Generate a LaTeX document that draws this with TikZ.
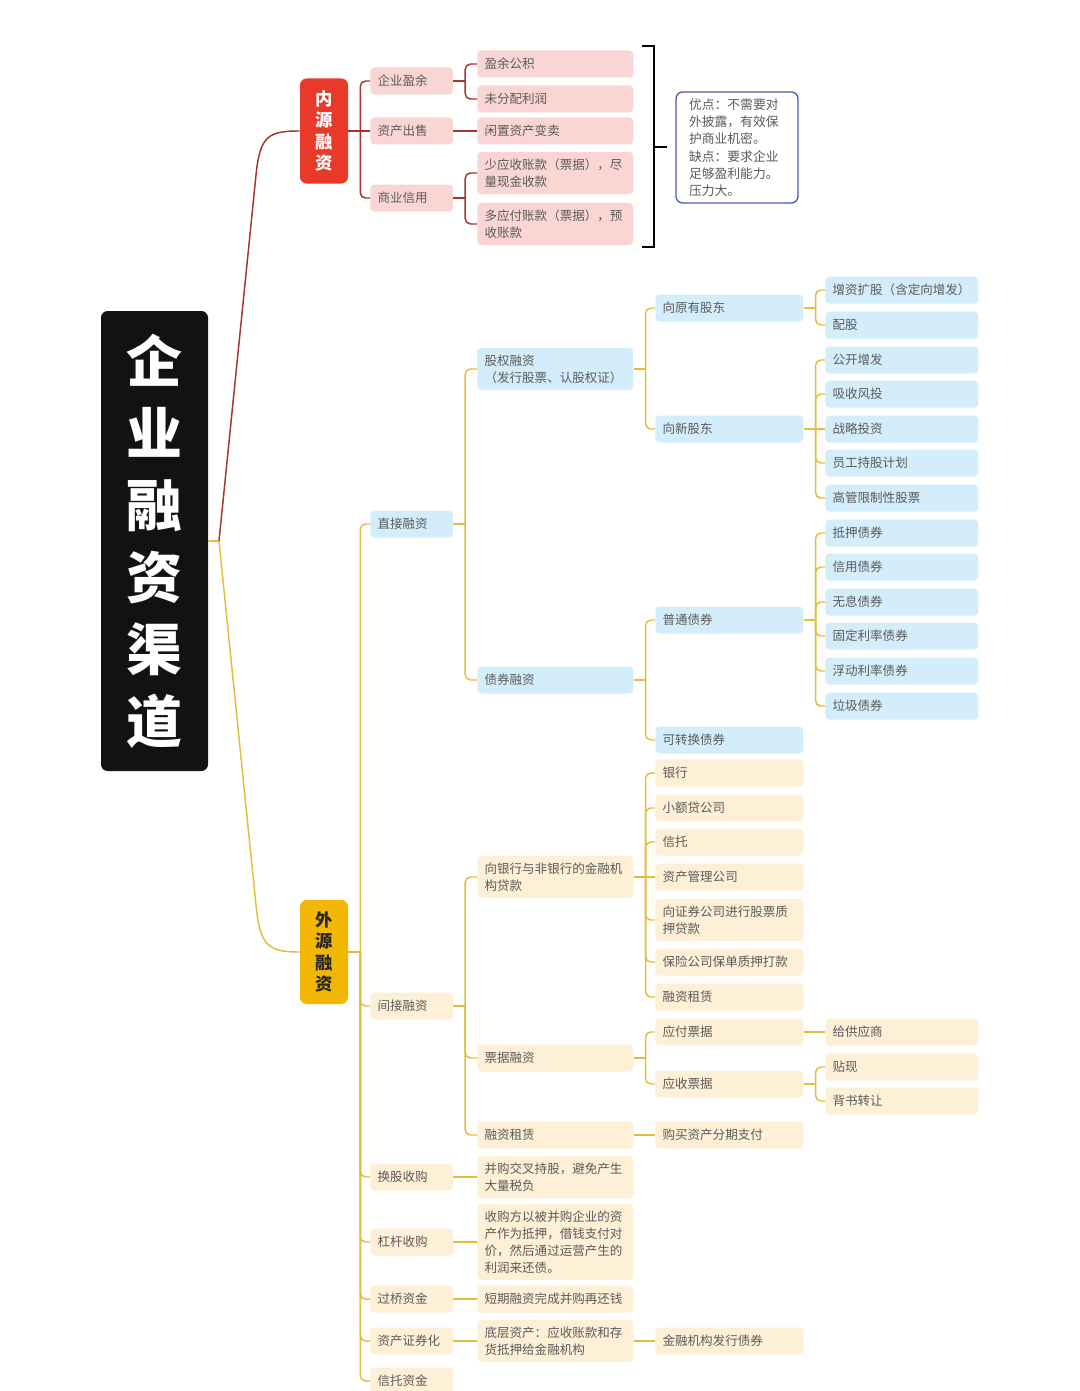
\documentclass[tikz,border=0pt]{standalone}
\usepackage{fontspec}
\setmainfont{Noto Sans CJK SC}
\usetikzlibrary{calc}
\definecolor{pinkf}{HTML}{F9D6D3}
\definecolor{bluef}{HTML}{D4EDFB}
\definecolor{creamf}{HTML}{FDF0D6}
\definecolor{txt}{HTML}{5B5B5B}
\definecolor{redl}{HTML}{A8322D}
\definecolor{yell}{HTML}{E5BD3A}
\definecolor{redbox}{HTML}{E8392B}
\definecolor{yelbox}{HTML}{F2B705}
\definecolor{notec}{HTML}{4A5AA8}
\tikzset{
  base/.style={anchor=west, rounded corners=3pt, inner xsep=5.5pt, inner ysep=5pt,
    minimum height=20.25pt, align=left, text=txt, font=\fontsize{9.4}{12.8}\selectfont},
  pk/.style={base, fill=pinkf},
  bl/.style={base, fill=bluef},
  cr/.style={base, fill=creamf},
  wA/.style={text width=51pt},
  wB/.style={text width=106pt},
  wC/.style={text width=100pt},
  wD/.style={text width=103.75pt},
  rl/.style={draw=redl, line width=1.1pt},
  yl/.style={draw=yell, line width=1.1pt},
}
% style, parent, children reached by a bend, children level with the parent
\newcommand\mybr[4]{%
  \draw[#1] (#2.east) -- ++(12,0) coordinate (#2-t);
  \foreach \c in {#3} { \draw[#1, rounded corners=4pt] (#2-t) |- (\c.west); }
  \foreach \c in {#4} { \draw[#1] (#2-t) -- (\c.west); }
}
\newcommand\mystr[3]{\draw[#1] (#2.east) -- (#3.west);}
\begin{document}
\begin{tikzpicture}[x=0.75pt,y=-0.75pt]
\fill[white] (0,0) rectangle (1080,1391);
\useasboundingbox (0,0) rectangle (1080,1391);

% root
\node[fill=black!93, rounded corners=5pt, minimum width=80.25pt, minimum height=345pt,
  text=white, align=center, font=\bfseries\fontsize{42}{54}\selectfont] (root) at (154.5,541)
  {企\\业\\融\\资\\渠\\道};
\node[fill=redbox, rounded corners=5pt, minimum width=36pt, minimum height=78.75pt,
  text=white, align=center, font=\bfseries\fontsize{13}{16.2}\selectfont] (nei) at (324,131)
  {内\\源\\融\\资};
\node[fill=yelbox, rounded corners=5pt, minimum width=36pt, minimum height=78pt,
  text=black!85, align=center, font=\bfseries\fontsize{13}{16.2}\selectfont] (wai) at (324,952)
  {外\\源\\融\\资};

\draw[yl] (root.east) -- (219,541) coordinate (j);
\draw[rl] (j) -- (256,175) .. controls (260,136) and (268,131) .. (nei.west);
\draw[yl] (j) -- (256,905) .. controls (260,946) and (268,952) .. (wai.west);

% inner financing
\node[pk,wA] (n1) at (370,81) {企业盈余};
\node[pk,wA] (n2) at (370,131) {资产出售};
\node[pk,wA] (n3) at (370,198) {商业信用};
\node[pk,wB] (n11) at (477,64) {盈余公积};
\node[pk,wB] (n12) at (477,99) {未分配利润};
\node[pk,wB] (n21) at (477,131) {闲置资产变卖};
\node[pk,wB] (n31) at (477,173) {少应收账款（票据），尽\\量现金收款};
\node[pk,wB] (n32) at (477,224) {多应付账款（票据），预\\收账款};
\mybr{rl}{nei}{n1,n3}{n2}
\mybr{rl}{n1}{n11,n12}{}
\mystr{rl}{n2}{n21}
\mybr{rl}{n3}{n31,n32}{}

% bracket and note
\draw[black, line width=1.2pt] (642,46) -- (654,46) -- (654,247) -- (642,247);
\draw[black, line width=1.2pt] (654,147) -- (667,147);
\node[draw=notec, line width=1pt, rounded corners=5pt, fill=white, minimum width=91.5pt,
  minimum height=83.25pt, text width=72pt, align=left, text=txt, inner xsep=8pt,
  font=\fontsize{9.6}{13}\selectfont] (note) at (737,147.5)
  {优点：不需要对\\外披露，有效保\\护商业机密。\\缺点：要求企业\\足够盈利能力。\\压力大。};

% outer financing level 1
\node[bl,wA] (d1) at (370,524) {直接融资};
\node[cr,wA] (d2) at (370,1006) {间接融资};
\node[cr,wA] (d3) at (370,1177) {换股收购};
\node[cr,wA] (d4) at (370,1242) {杠杆收购};
\node[cr,wA] (d5) at (370,1299) {过桥资金};
\node[cr,wA] (d6) at (370,1341) {资产证券化};
\node[cr,wA] (d7) at (370,1381) {信托资金};
\mybr{yl}{wai}{d1,d2,d3,d4,d5,d6,d7}{}

% direct
\node[bl,wB] (s1) at (477,369) {股权融资\\（发行股票、认股权证）};
\node[bl,wB] (s2) at (477,680) {债券融资};
\mybr{yl}{d1}{s1,s2}{}
\node[bl,wC] (s11) at (655,308) {向原有股东};
\node[bl,wC] (s12) at (655,429) {向新股东};
\mybr{yl}{s1}{s11,s12}{}
\node[bl,wD] (a1) at (825,290) {增资扩股（含定向增发）};
\node[bl,wD] (a2) at (825,325) {配股};
\mybr{yl}{s11}{a1,a2}{}
\node[bl,wD] (b1) at (825,360) {公开增发};
\node[bl,wD] (b2) at (825,394) {吸收风投};
\node[bl,wD] (b3) at (825,429) {战略投资};
\node[bl,wD] (b4) at (825,463) {员工持股计划};
\node[bl,wD] (b5) at (825,498) {高管限制性股票};
\mybr{yl}{s12}{b1,b2,b4,b5}{b3}
\node[bl,wC] (s21) at (655,620) {普通债券};
\node[bl,wC] (s22) at (655,740) {可转换债券};
\mybr{yl}{s2}{s21,s22}{}
\node[bl,wD] (c1) at (825,533) {抵押债券};
\node[bl,wD] (c2) at (825,567) {信用债券};
\node[bl,wD] (c3) at (825,602) {无息债券};
\node[bl,wD] (c4) at (825,636) {固定利率债券};
\node[bl,wD] (c5) at (825,671) {浮动利率债券};
\node[bl,wD] (c6) at (825,706) {垃圾债券};
\mybr{yl}{s21}{c1,c2,c3,c4,c5,c6}{}

% indirect
\node[cr,wB] (i1) at (477,877) {向银行与非银行的金融机\\构贷款};
\node[cr,wB] (i2) at (477,1058) {票据融资};
\node[cr,wB] (i3) at (477,1135) {融资租赁};
\mybr{yl}{d2}{i1,i2,i3}{}
\node[cr,wC] (e1) at (655,773) {银行};
\node[cr,wC] (e2) at (655,808) {小额贷公司};
\node[cr,wC] (e3) at (655,842) {信托};
\node[cr,wC] (e4) at (655,877) {资产管理公司};
\node[cr,wC] (e5) at (655,920) {向证券公司进行股票质\\押贷款};
\node[cr,wC] (e6) at (655,962) {保险公司保单质押打款};
\node[cr,wC] (e7) at (655,997) {融资租赁};
\mybr{yl}{i1}{e1,e2,e3,e5,e6,e7}{e4}
\node[cr,wC] (f1) at (655,1032) {应付票据};
\node[cr,wC] (f2) at (655,1084) {应收票据};
\mybr{yl}{i2}{f1,f2}{}
\node[cr,wD] (g1) at (825,1032) {给供应商};
\mystr{yl}{f1}{g1}
\node[cr,wD] (h1) at (825,1067) {贴现};
\node[cr,wD] (h2) at (825,1101) {背书转让};
\mybr{yl}{f2}{h1,h2}{}
\node[cr,wC] (k1) at (655,1135) {购买资产分期支付};
\mystr{yl}{i3}{k1}

% other outer
\node[cr,wB] (m3) at (477,1177) {并购交叉持股，避免产生\\大量税负};
\mystr{yl}{d3}{m3}
\node[cr,wB] (m4) at (477,1242) {收购方以被并购企业的资\\产作为抵押，借钱支付对\\价，然后通过运营产生的\\利润来还债。};
\mystr{yl}{d4}{m4}
\node[cr,wB] (m5) at (477,1299) {短期融资完成并购再还钱};
\mystr{yl}{d5}{m5}
\node[cr,wB] (m6) at (477,1341) {底层资产：应收账款和存\\货抵押给金融机构};
\mystr{yl}{d6}{m6}
\node[cr,wC] (m61) at (655,1341) {金融机构发行债券};
\mystr{yl}{m6}{m61}
\end{tikzpicture}
\end{document}
